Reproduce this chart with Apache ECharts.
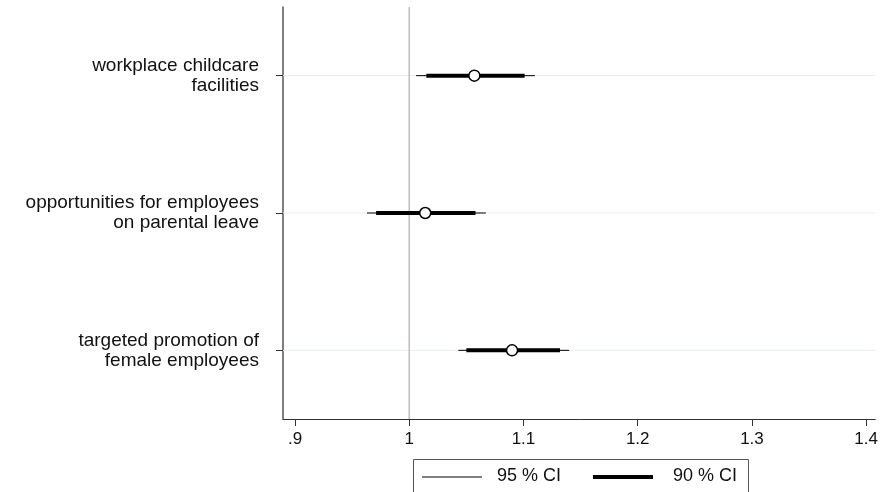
<!DOCTYPE html>
<html>
<head>
<meta charset="utf-8">
<script src="https://cdn.jsdelivr.net/npm/echarts@6/dist/echarts.min.js"></script>
<style>
  html, body { margin: 0; padding: 0; background: #fff; }
  #chart { width: 881px; height: 492px; }
</style>
</head>
<body>
<div id="chart"></div>
<script>
// categories, top to bottom
var categories = [
  'workplace childcare\nfacilities',
  'opportunities for employees\non parental leave',
  'targeted promotion of\nfemale employees'
];
// point estimates and confidence bounds
var estimates = [1.057, 1.014, 1.090];
var lo95 = [1.006, 0.963, 1.043];
var hi95 = [1.110, 1.067, 1.140];
var lo90 = [1.015, 0.971, 1.050];
var hi90 = [1.101, 1.058, 1.132];
// x axis ticks
var tickValues = [0.9, 1, 1.1, 1.2, 1.3, 1.4];
var tickLabels = ['.9', '1', '1.1', '1.2', '1.3', '1.4'];
var refValue = 1;

var font = 'Liberation Sans, Arial, sans-serif';

var myChart = echarts.init(document.getElementById('chart'));

function ciData(lo, hi) {
  var out = [];
  for (var i = 0; i < categories.length; i++) {
    out.push([lo[i], hi[i], i]);
  }
  return out;
}

// 画置信区间，可选画横向网格线
function ciRender(width, withGrid) {
  return function (params, api) {
    var p1 = api.coord([api.value(0), api.value(2)]);
    var p2 = api.coord([api.value(1), api.value(2)]);
    var cs = params.coordSys;
    var children = [];
    if (withGrid) {
      children.push({
        type: 'line',
        shape: { x1: cs.x, y1: p1[1], x2: cs.x + cs.width, y2: p1[1] },
        style: { stroke: '#e8eeee', lineWidth: 1 },
        z2: 0
      });
    }
    children.push({
      type: 'line',
      shape: { x1: p1[0], y1: p1[1], x2: p2[0], y2: p2[1] },
      style: { stroke: '#000', lineWidth: width },
      z2: 10
    });
    return { type: 'group', children: children };
  };
}

var pointData = [];
for (var i = 0; i < categories.length; i++) {
  pointData.push([estimates[i], i]);
}

var option = {
  animation: false,
  grid: { left: 283, top: 7, width: 595, height: 412 },
  xAxis: {
    type: 'value',
    min: 0.8895,
    max: 1.408,
    axisLine: { show: true, lineStyle: { color: '#333', width: 1 } },
    axisTick: {
      show: true, length: 7, customValues: tickValues,
      lineStyle: { color: '#333' }
    },
    axisLabel: {
      customValues: tickValues,
      margin: 12,
      fontFamily: font,
      fontSize: 17,
      color: '#111',
      formatter: function (v) {
        for (var k = 0; k < tickValues.length; k++) {
          if (Math.abs(tickValues[k] - v) < 1e-6) return tickLabels[k];
        }
        return '';
      }
    },
    splitLine: { show: false }
  },
  yAxis: {
    type: 'category',
    inverse: true,
    data: categories,
    boundaryGap: true,
    axisLine: { show: true, lineStyle: { color: '#555', width: 1.5 } },
    axisTick: { show: true, alignWithLabel: true, length: 7, lineStyle: { color: '#333' } },
    axisLabel: {
      margin: 24,
      fontFamily: font,
      fontSize: 19,
      lineHeight: 20,
      color: '#111',
      align: 'right'
    },
    splitLine: { show: false }
  },
  series: [
    {
      // 参考线 x = 1
      name: 'ref',
      type: 'custom',
      renderItem: function (params, api) {
        var cs = params.coordSys;
        var p = api.coord([api.value(0), 0]);
        return {
          type: 'line',
          shape: { x1: p[0], y1: cs.y, x2: p[0], y2: cs.y + cs.height },
          style: { stroke: '#bdbdbd', lineWidth: 1.5 }
        };
      },
      encode: { x: 0, y: 1 },
      data: [[refValue, 0]],
      z: 2
    },
    {
      name: '95 % CI',
      type: 'custom',
      renderItem: ciRender(1, true),
      encode: { x: [0, 1], y: 2 },
      data: ciData(lo95, hi95),
      z: 1
    },
    {
      name: '90 % CI',
      type: 'custom',
      renderItem: ciRender(4, false),
      encode: { x: [0, 1], y: 2 },
      data: ciData(lo90, hi90),
      z: 4
    },
    {
      name: 'estimate',
      type: 'scatter',
      data: pointData,
      symbol: 'circle',
      symbolSize: 11,
      itemStyle: { color: '#fff', borderColor: '#000', borderWidth: 1.5, opacity: 1 },
      z: 5
    }
  ],
  // 图例框
  graphic: [
    {
      type: 'rect',
      left: 413, top: 459,
      shape: { width: 335, height: 40 },
      style: { fill: '#fff', stroke: '#555', lineWidth: 1 }
    },
    {
      type: 'line',
      shape: { x1: 422, y1: 477, x2: 482, y2: 477 },
      style: { stroke: '#000', lineWidth: 1 }
    },
    {
      type: 'text',
      left: 497, top: 467,
      style: { text: '95 % CI', font: '18px ' + font, fill: '#111' }
    },
    {
      type: 'line',
      shape: { x1: 593, y1: 477, x2: 653, y2: 477 },
      style: { stroke: '#000', lineWidth: 4 }
    },
    {
      type: 'text',
      left: 673, top: 467,
      style: { text: '90 % CI', font: '18px ' + font, fill: '#111' }
    }
  ]
};

myChart.setOption(option);
</script>
</body>
</html>
